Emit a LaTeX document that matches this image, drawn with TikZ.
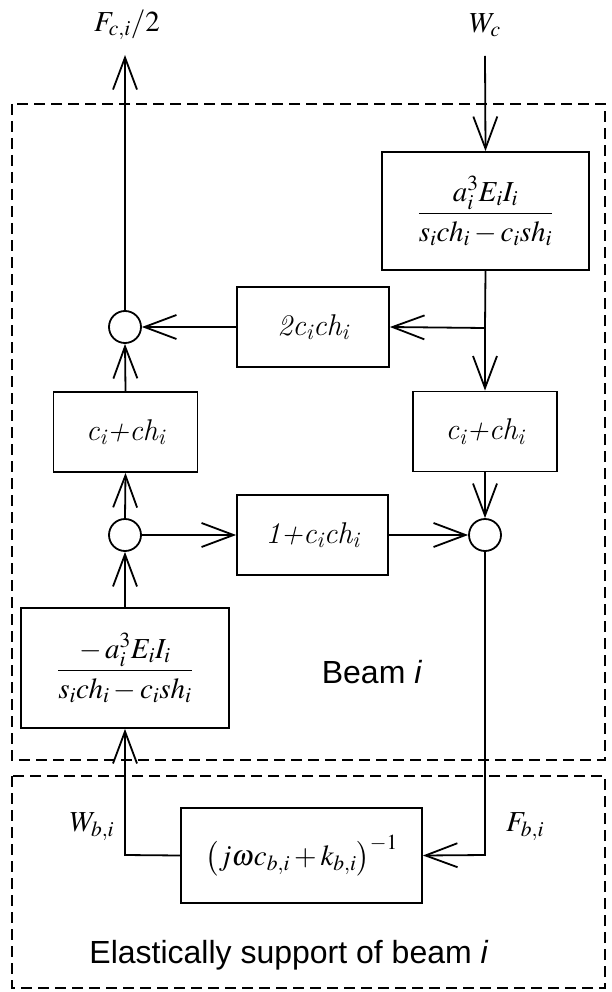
\documentclass[tikz,border=0pt]{standalone}
\usepackage{mathptmx}
\usepackage[no-math]{fontspec}
\newfontfamily\arialfont{Liberation Sans}
\newfontfamily\lmfont{Latin Modern Roman}
\usetikzlibrary{arrows.meta}
\newcommand\lmsub[1]{\textsubscript{#1}}
\tikzset{
  lw/.style={line width=1.8pt},
  blk/.style={draw, lw, inner sep=0pt, align=center},
  sumc/.style={draw, circle, lw, minimum size=32pt, inner sep=0pt},
  conn/.style={lw, -{Straight Barb[length=32pt,width=24pt]}},
  plainline/.style={lw},
  frame/.style={lw, dash pattern=on 11pt off 6pt},
  mathlbl/.style={font=\fontsize{29}{35}\selectfont},
  fracfont/.style={font=\fontsize{29}{34}\selectfont},
  cmfont/.style={font=\fontsize{30}{36}\selectfont\lmfont\itshape},
  sansfont/.style={font=\fontsize{32}{38}\selectfont\arialfont}
}
\begin{document}
\begin{tikzpicture}[x=1pt,y=-1pt]
\useasboundingbox (0,0) rectangle (611,992);
% frames
\draw[frame] (12,104) rectangle (605,760);
\draw[frame] (12,776) rectangle (605,988);
% blocks
\node[blk, fracfont, minimum width=207pt, minimum height=118pt] (b1) at (485.5,211)
  {$\displaystyle\frac{a_i^3E_iI_i}{s_ich_i-c_ish_i}$};
\node[blk, cmfont, minimum width=152pt, minimum height=80pt] (b2) at (313,327)
  {2c\lmsub{i}ch\lmsub{i}};
\node[blk, cmfont, minimum width=144pt, minimum height=80pt] (bL) at (125.5,432)
  {c\lmsub{i}+ch\lmsub{i}};
\node[blk, cmfont, minimum width=144pt, minimum height=80pt] (bR) at (485,431.5)
  {c\lmsub{i}+ch\lmsub{i}};
\node[blk, cmfont, minimum width=151pt, minimum height=80pt] (b3) at (312.5,535)
  {1+c\lmsub{i}ch\lmsub{i}};
\node[blk, fracfont, minimum width=208pt, minimum height=120pt] (b4) at (125,668)
  {$\displaystyle\frac{-\,a_i^3E_iI_i}{s_ich_i-c_ish_i}$};
\node[blk, fracfont, minimum width=241pt, minimum height=95pt] (b5) at (301.5,855.5)
  {$\bigl(j\omega c_{b,i}+k_{b,i}\bigr)^{-1}$};
% summing circles
\node[sumc] (s1) at (125,327) {};
\node[sumc] (s2) at (125,535) {};
\node[sumc] (s3) at (485,535) {};
% labels
\node[mathlbl] (lF) at (127,25) {$F_{c,i}/2$};
\node[mathlbl] (lW) at (485,25) {$W_c$};
\node[mathlbl] (lWb) at (92,827) {$W_{b,i}$};
\node[mathlbl] (lFb) at (525,827) {$F_{b,i}$};
\node[sansfont] (tB) at (372,672) {Beam \textit{i}};
\node[sansfont] (tE) at (289,955) {Elastically support of beam \textit{i}};
% free ends
\coordinate (fTop) at (125,55);
\coordinate (wTop) at (485,56);
\coordinate (j1) at (485,328);
\coordinate (rB) at (485,855);
\coordinate (lB) at (125,855);
% connectors
\draw[conn] (s1.north) -- (fTop);
\draw[conn] (wTop) -- (b1.north);
\draw[plainline] (b1.south) -- (j1);
\draw[conn] (j1) -- (bR.north);
\draw[conn] (j1) -- (b2.east);
\draw[conn] (b2.west) -- (s1.east);
\draw[conn] (bL.north) -- (s1.south);
\draw[conn] (s2.north) -- (bL.south);
\draw[conn] (s2.east) -- (b3.west);
\draw[conn] (b3.east) -- (s3.west);
\draw[conn] (bR.south) -- (s3.north);
\draw[conn] (b4.north) -- (s2.south);
\draw[conn] (s3.south) -- (rB) -- (b5.east);
\draw[conn] (b5.west) -- (lB) -- (b4.south);
\end{tikzpicture}
\end{document}
